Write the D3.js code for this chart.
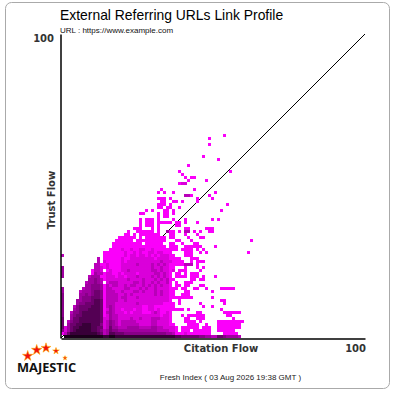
<!DOCTYPE html>
<html><head><meta charset="utf-8">
<script src="https://cdn.jsdelivr.net/npm/d3@7"></script>
<style>html,body{margin:0;padding:0;background:#fff}svg{display:block}</style>
</head><body><svg id="c" width="400" height="400"></svg>
<script>
const titleText = "External Referring URLs Link Profile";
const urlText = "URL : https://www.example.com";
const footerText = "Fresh Index ( 03 Aug 2026 19:38 GMT )";
const xLabel = "Citation Flow", yLabel = "Trust Flow", maxLabel = "100";
// density level of each citation-flow bin, rows from trust flow 35 down to 0 ('.' = no links)
const denseRows = [
".......... .......... ..1..11111 1.1..411.1 .33.1.1..1 1......... ....",
".......... .......... .11.1.1111 111...11.. .1...1.... .......... ....",
".......... .........1 11111.1.11 11111.11.. ..1...11.. .......... ....",
".......... ........11 1111.11111 11111...11 ...1...... .......... ...1",
".......... .......111 1111111.11 1111..11.. 1...11.... .......... ....",
".......... .......111 1111111111 11111.111. .111111... .1........ ....",
".......... ......1111 2112112211 211111111. 1111.1.1.. .......... ....",
".......... ....111111 1211212112 2122111... .111..1.1. .......... ..1.",
"3......... ....111111 1212212212 12122211.. .111...... .......... ....",
".......... ..3.111111 2112222222 2122221111 ...111.... .......... ....",
".......... ..3.211111 2122222222 2223222111 1..1.111.. .......... ....",
".......... .331121111 2222232222 3232321111 1333.1.... .......... ....",
"4......... .332121111 2222222222 32232211.. .1...1.1.. .......... ....",
"4......... 1332.12111 2232222222 33232212.1 11....1... .......... ....",
"4......... 1433122112 1222212222 2332321.11 .1.111.... .......... ....",
"4........3 4441122212 2122232222 3232321.11 11.111.1.. .1........ ....",
".........4 4543122222 2232222322 23232311.. ...11.11.. .......... ....",
"........34 4543.23332 2222332322 3232231.1. .111...... .......... ....",
"........44 5554132332 2323322323 2323221.11 .11...11.. .......... ....",
"4......344 5554133222 2332223232 232222111. 11..11..1. ...11111.. ....",
"4.....3444 5665133322 3222332322 23232211.. .11....... 1......... ....",
"5.....4454 5665133332 2323222222 23232211.. 111....... .......... ....",
"5.....4555 6665133332 3322232222 2222221111 1111...... 1......... ....",
"5....44555 6776133332 2322222222 2222221..1 .......... ...11..... ....",
"5....45566 6776133322 2222232222 22221111.1 ......1... ....1..... ....",
"5...356666 7776134322 2222222112 21111111.. .......1.. 1......... ....",
"5...456667 7776124322 1222122112 2121111111 1.1....... ...1...... ....",
"5..3556777 7776134322 2121222111 2321121... .....11... ....111111 ....",
"5..4566777 7776124332 2222222222 2221221... 1.111111.. .....11... ....",
"6..4667777 7776224332 2223223222 3332221... .11..111.. .......1.. ....",
"6.35667777 7776235432 3333322222 3322221... .1111.1... ..11111111 1...",
"6.46677888 7775235432 3333332222 33222211.. ..1111..1. ..11111111 ....",
"6246778888 7766236443 3344443333 443322221. 111111.111 ..11111111 ....",
"5246788888 7765346554 4444444444 443333221. 111.111111 ..111111.. ....",
"1368888888 8876347766 6555555555 5555544311 1211111111 ....11111. ....",
".999999999 9999889988 8888888888 8888888877 6666665544 3366544443 ...."
];
// isolated bins above the dense area: citation flow, trust flow, level
const sparseCF = [54,49,49,47,52,42,39,56,40,41,43,44,42,48,39,40,41,33,44,32,34,37,51,41,42,43,49,32,33,34,36,45,50,33,34,37,38,40,45,32,33,34,36,55,32,33,35,36,39,28,30,34,35,37,53,26,27,32,34,35,37,32,34,35,26,28,29,30,32,37,41,50,52,26,28,29,30,32,33,34,35,36,38,39,41,45,26,28,29,30,32,38,39,24,25,26,30,32,41,42,48,49,50];
const sparseTF = [67,66,64,60,59,57,55,55,54,53,53,53,52,52,51,51,51,49,49,48,48,48,48,47,47,47,47,46,46,46,46,46,46,45,45,45,45,45,45,44,44,44,44,44,43,43,43,43,43,42,42,42,42,42,42,41,41,41,41,41,41,40,40,40,39,39,39,39,39,39,39,39,39,38,38,38,38,38,38,38,38,38,38,38,38,38,37,37,37,37,37,37,37,36,36,36,36,36,36,36,36,36,36];
const sparseLv = [1,1,1,1,1,1,1,1,1,1,1,1,1,1,1,2,2,1,1,1,1,1,1,3,3,1,1,1,1,1,1,1,1,1,1,1,1,1,1,1,1,1,1,1,1,1,1,1,1,1,1,1,1,1,1,1,1,1,1,1,1,1,1,1,1,1,1,1,1,1,1,1,1,1,1,1,1,1,1,1,1,1,1,1,1,1,1,1,1,1,1,1,1,1,1,1,1,1,1,1,1,1,1];
const levelValues = [250,218,185,160,136,110,84,56,26];
const logoWord = "MAJESTIC";
const logoStarX = [27.7,36.7,46,56,65];
const logoStarY = [356,350,348,351,358];
const logoStarSize = [34,34,30,14,6];

const cells = [];
denseRows.forEach((r, k) => {
  const tf = 35 - k;
  Array.from(r.replace(/ /g, "")).forEach((c, cf) => { if (c !== ".") cells.push({cf, tf, lv: +c}); });
});
sparseCF.forEach((cf, i) => cells.push({cf, tf: sparseTF[i], lv: sparseLv[i]}));

const svg = d3.select("#c");
const x = d3.scaleLinear().domain([0, 101.33]).range([61, 365]);
const y = d3.scaleLinear().domain([0, 101.33]).range([338, 34]);
const shade = d3.scaleOrdinal().domain(d3.range(1, 10)).range(levelValues.map(v => `rgb(${v},0,${v})`));
const sans = "'Liberation Sans',Arial,sans-serif", bold = "'DejaVu Sans',Verdana,sans-serif";

svg.append("rect").attr("x", 5.5).attr("y", 2.5).attr("width", 384).attr("height", 386)
  .attr("rx", 6).attr("fill", "#fff").attr("stroke", "#aaa").attr("stroke-width", 1);

const diag = d3.line().x(d => x(d)).y(d => y(d));
svg.append("path").attr("d", diag([0, 101.33])).attr("fill", "none").attr("stroke", "#000").attr("stroke-width", 1);

svg.append("g").selectAll("rect").data(cells).join("rect")
  .attr("x", d => x(d.cf)).attr("y", d => y(d.tf + 1))
  .attr("width", d => x(d.cf + 1) - x(d.cf)).attr("height", d => y(d.tf) - y(d.tf + 1))
  .attr("fill", d => shade(d.lv));

const xAxis = svg.append("g").attr("transform", "translate(0,338.5)").call(d3.axisBottom(x).tickValues([]).tickSize(0).tickSizeOuter(0));
const yAxis = svg.append("g").attr("transform", "translate(60.5,0)").call(d3.axisLeft(y).tickValues([]).tickSize(0).tickSizeOuter(0));
svg.selectAll(".domain").attr("stroke", "#000").attr("stroke-width", 1.5);

const text = (s, px, py, size, fam, w, col, anchor) => svg.append("text").text(s).attr("x", px).attr("y", py)
  .attr("font-size", size).attr("font-family", fam).attr("font-weight", w).attr("fill", col).attr("text-anchor", anchor || "start");
text(titleText, 60, 20, 13.9, sans, 400, "#000");
text(urlText, 60, 33, 8, sans, 400, "#111");
text(maxLabel, 54, 42, 10, bold, 700, "#333", "end");
text(maxLabel, 366, 352, 10, bold, 700, "#333", "end");
text(xLabel, 221, 352, 10, bold, 700, "#333", "middle");
text(yLabel, 0, 0, 10, bold, 700, "#333", "middle").attr("transform", "translate(55,200) rotate(-90)");
text(footerText, 230.5, 380, 8, sans, 400, "#222", "middle");

// logo
svg.append("g").selectAll("path").data(logoStarX).join("path")
  .attr("d", (d, i) => d3.symbol(d3.symbolStar, logoStarSize[i])())
  .attr("transform", (d, i) => `translate(${d},${logoStarY[i]})`)
  .attr("fill", "#f01010").attr("stroke", "#ffb000").attr("stroke-width", 0.6);
text(logoWord, 17, 372, 12.8, "'Open Sans',sans-serif", 700, "#111");
</script></body></html>
